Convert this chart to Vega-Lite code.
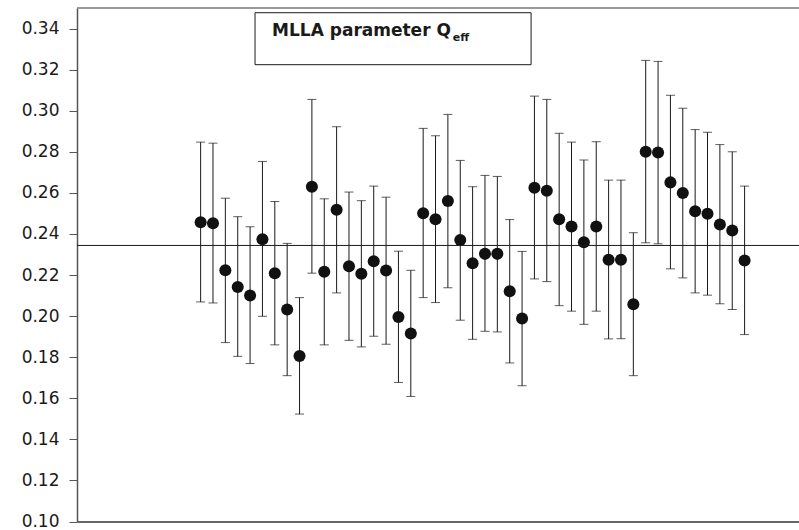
{
  "$schema": "https://vega.github.io/schema/vega-lite/v6.json",
  "width": 722,
  "height": 513.5,
  "autosize": {"type": "none"},
  "padding": {"left": 77, "top": 8, "right": 0, "bottom": 8},
  "background": "white",
  "config": {
    "view": {"stroke": null},
    "axis": {"grid": false}
  },
  "datasets": {
    "pts": [
      {"i": 1, "q": 0.2457, "lo": 0.2069, "hi": 0.2847},
      {"i": 2, "q": 0.2452, "lo": 0.2064, "hi": 0.2842},
      {"i": 3, "q": 0.2223, "lo": 0.1871, "hi": 0.2574},
      {"i": 4, "q": 0.2142, "lo": 0.1804, "hi": 0.2484},
      {"i": 5, "q": 0.2100, "lo": 0.1769, "hi": 0.2435},
      {"i": 6, "q": 0.2374, "lo": 0.1999, "hi": 0.2753},
      {"i": 7, "q": 0.2209, "lo": 0.1860, "hi": 0.2558},
      {"i": 8, "q": 0.2032, "lo": 0.1710, "hi": 0.2354},
      {"i": 9, "q": 0.1806, "lo": 0.1523, "hi": 0.2090},
      {"i": 10, "q": 0.2630, "lo": 0.2209, "hi": 0.3055},
      {"i": 11, "q": 0.2216, "lo": 0.1860, "hi": 0.2571},
      {"i": 12, "q": 0.2518, "lo": 0.2113, "hi": 0.2922},
      {"i": 13, "q": 0.2243, "lo": 0.1882, "hi": 0.2604},
      {"i": 14, "q": 0.2206, "lo": 0.1850, "hi": 0.2562},
      {"i": 15, "q": 0.2267, "lo": 0.1902, "hi": 0.2633},
      {"i": 16, "q": 0.2222, "lo": 0.1863, "hi": 0.2579},
      {"i": 17, "q": 0.1996, "lo": 0.1677, "hi": 0.2316},
      {"i": 18, "q": 0.1915, "lo": 0.1609, "hi": 0.2223},
      {"i": 19, "q": 0.2501, "lo": 0.2090, "hi": 0.2914},
      {"i": 20, "q": 0.2472, "lo": 0.2066, "hi": 0.2878},
      {"i": 21, "q": 0.2560, "lo": 0.2138, "hi": 0.2982},
      {"i": 22, "q": 0.2370, "lo": 0.1980, "hi": 0.2758},
      {"i": 23, "q": 0.2257, "lo": 0.1887, "hi": 0.2630},
      {"i": 24, "q": 0.2303, "lo": 0.1926, "hi": 0.2685},
      {"i": 25, "q": 0.2303, "lo": 0.1923, "hi": 0.2680},
      {"i": 26, "q": 0.2121, "lo": 0.1772, "hi": 0.2470},
      {"i": 27, "q": 0.1988, "lo": 0.1661, "hi": 0.2315},
      {"i": 28, "q": 0.2625, "lo": 0.2181, "hi": 0.3071},
      {"i": 29, "q": 0.2610, "lo": 0.2168, "hi": 0.3055},
      {"i": 30, "q": 0.2472, "lo": 0.2051, "hi": 0.2890},
      {"i": 31, "q": 0.2436, "lo": 0.2024, "hi": 0.2847},
      {"i": 32, "q": 0.2360, "lo": 0.1960, "hi": 0.2760},
      {"i": 33, "q": 0.2436, "lo": 0.2024, "hi": 0.2849},
      {"i": 34, "q": 0.2274, "lo": 0.1889, "hi": 0.2662},
      {"i": 35, "q": 0.2274, "lo": 0.1890, "hi": 0.2662},
      {"i": 36, "q": 0.2058, "lo": 0.1710, "hi": 0.2406},
      {"i": 37, "q": 0.2800, "lo": 0.2357, "hi": 0.3245},
      {"i": 38, "q": 0.2796, "lo": 0.2352, "hi": 0.3240},
      {"i": 39, "q": 0.2651, "lo": 0.2230, "hi": 0.3075},
      {"i": 40, "q": 0.2599, "lo": 0.2186, "hi": 0.3012},
      {"i": 41, "q": 0.2510, "lo": 0.2113, "hi": 0.2908},
      {"i": 42, "q": 0.2498, "lo": 0.2102, "hi": 0.2895},
      {"i": 43, "q": 0.2446, "lo": 0.2060, "hi": 0.2835},
      {"i": 44, "q": 0.2417, "lo": 0.2032, "hi": 0.2800},
      {"i": 45, "q": 0.2271, "lo": 0.1910, "hi": 0.2633}
    ],
    "box": [{"x1": 5.4, "x2": 27.73, "y1": 0.3224, "y2": 0.3477}],
    "labels": [
      {"x": 6.78, "y": 0.3365, "t": "MLLA parameter Q", "kind": "main"},
      {"x": 21.4, "y": 0.3338, "t": "eff", "kind": "sub"}
    ]
  },
  "layer": [
    {
      "data": {"name": "pts"},
      "mark": {"type": "rule", "color": "#1a1a1a", "strokeWidth": 1},
      "encoding": {
        "x": {"field": "i", "type": "quantitative", "scale": {"domain": [-9, 49.4], "nice": false, "zero": false},
          "axis": {"orient": "bottom", "ticks": false, "labels": false, "title": null, "domainColor": "#333", "domainWidth": 1.5}},
        "y": {"field": "lo", "type": "quantitative", "scale": {"domain": [0.10, 0.35], "nice": false, "zero": false},
          "axis": {"values": [0.10, 0.12, 0.14, 0.16, 0.18, 0.20, 0.22, 0.24, 0.26, 0.28, 0.30, 0.32, 0.34], "format": ".2f", "title": null,
            "tickSize": 8, "tickColor": "#555", "domainColor": "#555", "domainWidth": 1.5, "labelFont": "DejaVu Sans", "labelFontSize": 17,
            "labelColor": "#1a1a1a", "labelPadding": 10}},
        "y2": {"field": "hi"}
      }
    },
    {
      "data": {"values": [{"v": 0.35}]},
      "mark": {"type": "rule", "color": "#777", "strokeWidth": 1.5},
      "encoding": {
        "y": {"field": "v", "type": "quantitative"}
      }
    },
    {
      "data": {"name": "pts"},
      "mark": {"type": "tick", "orient": "horizontal", "color": "#1a1a1a", "size": 9, "thickness": 1},
      "encoding": {
        "x": {"field": "i", "type": "quantitative"},
        "y": {"field": "hi", "type": "quantitative"}
      }
    },
    {
      "data": {"name": "pts"},
      "mark": {"type": "tick", "orient": "horizontal", "color": "#1a1a1a", "size": 9, "thickness": 1},
      "encoding": {
        "x": {"field": "i", "type": "quantitative"},
        "y": {"field": "lo", "type": "quantitative"}
      }
    },
    {
      "data": {"name": "pts"},
      "mark": {"type": "point", "shape": "circle", "filled": true, "color": "#111", "opacity": 1, "size": 145},
      "encoding": {
        "x": {"field": "i", "type": "quantitative"},
        "y": {"field": "q", "type": "quantitative"}
      }
    },
    {
      "data": {"values": [{"v": 0.2344}]},
      "mark": {"type": "rule", "color": "#1a1a1a", "strokeWidth": 1},
      "encoding": {
        "y": {"field": "v", "type": "quantitative"}
      }
    },
    {
      "data": {"name": "box"},
      "mark": {"type": "rect", "fill": "white", "stroke": "#1a1a1a", "strokeWidth": 1},
      "encoding": {
        "x": {"field": "x1", "type": "quantitative"},
        "x2": {"field": "x2"},
        "y": {"field": "y1", "type": "quantitative"},
        "y2": {"field": "y2"}
      }
    },
    {
      "data": {"name": "labels"},
      "transform": [{"filter": "datum.kind == 'main'"}],
      "mark": {"type": "text", "align": "left", "baseline": "alphabetic", "font": "DejaVu Sans", "fontWeight": "bold", "fontSize": 17, "color": "#1a1a1a"},
      "encoding": {
        "x": {"field": "x", "type": "quantitative"},
        "y": {"field": "y", "type": "quantitative"},
        "text": {"field": "t"}
      }
    },
    {
      "data": {"name": "labels"},
      "transform": [{"filter": "datum.kind == 'sub'"}],
      "mark": {"type": "text", "align": "left", "baseline": "alphabetic", "font": "DejaVu Sans", "fontWeight": "bold", "fontSize": 11, "color": "#1a1a1a"},
      "encoding": {
        "x": {"field": "x", "type": "quantitative"},
        "y": {"field": "y", "type": "quantitative"},
        "text": {"field": "t"}
      }
    }
  ]
}
